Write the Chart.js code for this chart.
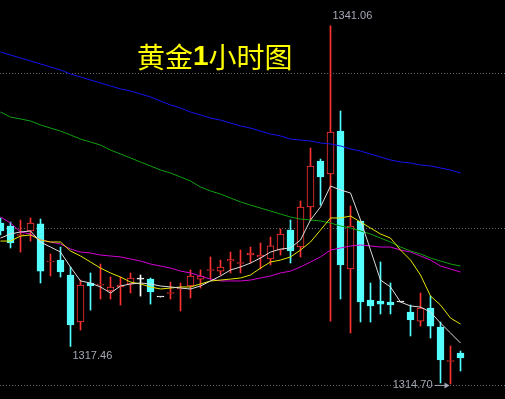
<!DOCTYPE html>
<html>
<head>
<meta charset="utf-8">
<script src="https://cdn.jsdelivr.net/npm/chart.js@4.4.1/dist/chart.umd.min.js"></script>
<style>
  html, body { margin: 0; padding: 0; background: #000; }
  #kline { display: block; background: #000; }
</style>
</head>
<body>
<canvas id="kline" width="505" height="399"></canvas>
<script>
// 1h gold candles, oldest first
const opens  = [1326.55, 1326.33, 1325.63, 1325.96, 1326.48, 1323.68, 1323.82, 1322.72, 1319.26, 1322.13,
                1321.98, 1321.54, 1321.84, 1322.06, 1322.42, 1322.42, 1321.10, 1321.36, 1321.69, 1321.91,
                1322.42, 1323.05, 1323.01, 1323.75, 1323.57, 1324.19, 1324.05, 1323.90, 1324.56, 1326.03,
                1324.78, 1327.73, 1331.11, 1330.16, 1333.32, 1323.16, 1326.70, 1320.88, 1320.80, 1320.73,
                1320.73, 1319.99, 1319.33, 1320.29, 1318.89, 1316.35, 1316.98];
const highs  = [1326.92, 1326.62, 1326.77, 1326.92, 1326.84, 1324.27, 1324.78, 1323.31, 1322.35, 1322.87,
                1323.53, 1322.57, 1322.57, 1322.87, 1322.72, 1322.50, 1321.10, 1322.20, 1322.13, 1323.09,
                1323.09, 1324.05, 1323.82, 1324.41, 1324.56, 1324.78, 1325.08, 1325.52, 1326.11, 1326.77,
                1328.17, 1332.07, 1331.26, 1341.06, 1334.80, 1327.80, 1326.70, 1322.13, 1323.68, 1322.13,
                1320.73, 1320.51, 1321.39, 1321.17, 1319.26, 1317.49, 1317.12];
const lows   = [1325.67, 1324.71, 1324.41, 1325.22, 1322.13, 1322.65, 1322.57, 1317.46, 1318.67, 1320.14,
                1320.95, 1320.95, 1320.51, 1321.39, 1321.17, 1320.58, 1321.10, 1320.95, 1320.07, 1321.03,
                1321.76, 1322.42, 1322.72, 1322.87, 1322.87, 1323.60, 1323.16, 1323.46, 1324.19, 1323.60,
                1324.05, 1326.77, 1327.87, 1319.33, 1320.95, 1318.45, 1319.26, 1319.26, 1319.85, 1319.85,
                1320.73, 1318.23, 1318.96, 1318.08, 1314.77, 1314.70, 1315.65];
const closes = [1325.96, 1325.08, 1325.70, 1326.55, 1323.01, 1323.75, 1322.94, 1319.04, 1321.98, 1321.91,
                1322.06, 1321.84, 1321.98, 1322.50, 1322.42, 1321.47, 1321.10, 1321.43, 1321.76, 1322.65,
                1322.65, 1323.12, 1323.31, 1323.86, 1323.64, 1324.34, 1324.16, 1324.86, 1325.74, 1324.49,
                1327.73, 1330.75, 1329.94, 1333.25, 1323.46, 1326.33, 1320.73, 1320.44, 1320.58, 1320.51,
                1320.73, 1319.41, 1320.29, 1318.96, 1316.46, 1316.42, 1316.61];

// moving averages as drawn on the terminal
const ma5   = [1325.44, 1325.74, 1325.89, 1325.96, 1325.15, 1324.78, 1324.41, 1323.31, 1322.28, 1322.13,
               1321.84, 1321.39, 1321.91, 1322.06, 1322.13, 1322.06, 1321.91, 1321.84, 1321.76, 1321.69,
               1321.91, 1322.28, 1322.65, 1323.09, 1323.31, 1323.60, 1323.97, 1324.41, 1324.63, 1324.71,
               1325.30, 1326.77, 1327.73, 1329.27, 1328.98, 1328.76, 1326.77, 1324.56, 1322.35, 1321.84,
               1320.73, 1320.44, 1320.36, 1319.99, 1319.18, 1318.45, 1317.71];
const ma10  = [1325.22, 1325.22, 1325.59, 1325.67, 1325.30, 1325.15, 1325.15, 1324.49, 1324.12, 1323.68,
               1323.23, 1322.87, 1322.57, 1322.20, 1322.06, 1321.84, 1321.69, 1321.76, 1321.84, 1321.84,
               1322.06, 1322.28, 1322.35, 1322.42, 1322.50, 1322.72, 1323.23, 1323.68, 1323.82, 1324.05,
               1324.56, 1325.15, 1326.03, 1326.92, 1326.92, 1327.06, 1326.62, 1326.18, 1325.74, 1325.44,
               1324.56, 1323.82, 1322.72, 1321.17, 1320.51, 1319.55, 1319.11];
const ma20  = [1326.99, 1326.55, 1325.89, 1325.74, 1325.30, 1325.15, 1325.00, 1324.63, 1324.41, 1324.34,
               1324.19, 1324.12, 1324.05, 1323.90, 1323.75, 1323.53, 1323.38, 1323.23, 1323.01, 1322.87,
               1322.65, 1322.42, 1322.28, 1322.28, 1322.28, 1322.35, 1322.50, 1322.65, 1322.87, 1323.01,
               1323.31, 1323.68, 1324.05, 1324.56, 1324.71, 1324.86, 1324.93, 1324.86, 1324.78, 1324.78,
               1324.56, 1324.41, 1324.12, 1323.82, 1323.38, 1323.16, 1322.94];
const ma60  = [1334.72, 1334.35, 1334.21, 1334.06, 1333.77, 1333.54, 1333.32, 1333.03, 1332.73, 1332.51,
               1332.29, 1331.92, 1331.63, 1331.34, 1331.04, 1330.75, 1330.45, 1330.23, 1329.94, 1329.64,
               1329.20, 1328.91, 1328.68, 1328.39, 1328.10, 1327.87, 1327.65, 1327.43, 1327.21, 1326.99,
               1326.84, 1326.77, 1326.70, 1326.55, 1326.33, 1326.18, 1325.96, 1325.74, 1325.44, 1325.15,
               1324.78, 1324.49, 1324.27, 1323.97, 1323.75, 1323.53, 1323.38];
const ma120 = [1339.14, 1338.92, 1338.70, 1338.48, 1338.26, 1338.04, 1337.82, 1337.52, 1337.30, 1337.08,
               1336.86, 1336.64, 1336.42, 1336.27, 1336.05, 1335.83, 1335.53, 1335.24, 1335.02, 1334.72,
               1334.50, 1334.28, 1334.13, 1333.91, 1333.69, 1333.54, 1333.32, 1333.10, 1332.96, 1332.73,
               1332.66, 1332.59, 1332.44, 1332.37, 1332.22, 1332.00, 1331.85, 1331.63, 1331.41, 1331.19,
               1331.04, 1330.97, 1330.82, 1330.75, 1330.60, 1330.45, 1330.23];

const gridPrices = [1337.59, 1326.11, 1314.62];
const titleParts = ['黄金', '1', '小时图'];

const RED = '#ff3232';
const CYAN = '#54ffff';
const DOJI = '#ffffff';

function candleColor(i) {
  if (closes[i] > opens[i]) return RED;
  if (closes[i] < opens[i]) return CYAN;
  return DOJI;
}

const idx = opens.map((o, i) => i);
const bodyData = idx.map(i => ({ x: i, y: [opens[i], closes[i]] }));
const wickData = idx.map(i => ({ x: i, y: [lows[i], highs[i]] }));
const maLine = (arr, color) => ({
  type: 'line',
  data: arr.map((v, i) => ({ x: i, y: v })),
  borderColor: color,
  borderWidth: 1,
  pointRadius: 0,
  tension: 0,
  fill: false
});

const overlay = {
  id: 'overlay',
  afterDraw(chart) {
    const c = chart.ctx;
    const xs = chart.scales.x, ys = chart.scales.y;

    // title
    c.save();
    c.fillStyle = '#ffff00';
    c.textBaseline = 'middle';
    let tx = 137;
    titleParts.forEach(p => {
      c.font = p === '1' ? 'bold 28px "Liberation Sans", Arial' : '28px "Noto Sans CJK SC"';
      c.fillText(p, tx, 57);
      tx += c.measureText(p).width;
    });

    // high / low marks
    c.font = '11px "Liberation Sans", Arial';
    c.fillStyle = '#a4a8b4';
    c.strokeStyle = '#a4a8b4';
    const hi = highs.indexOf(Math.max(...highs));
    c.textAlign = 'left';
    c.fillText(highs[hi].toFixed(2), xs.getPixelForValue(hi) + 2, ys.getPixelForValue(highs[hi]) - 10);

    const lo1 = 7;
    c.fillText(lows[lo1].toFixed(2), xs.getPixelForValue(lo1) + 2, ys.getPixelForValue(lows[lo1]) + 10);

    const lo = lows.indexOf(Math.min(...lows));
    const lx = xs.getPixelForValue(lo), ly = ys.getPixelForValue(lows[lo]) + 1;
    c.textAlign = 'right';
    c.fillText(lows[lo].toFixed(2), lx - 18, ly);
    c.beginPath();
    c.moveTo(lx - 16, ly + 0.5);
    c.lineTo(lx - 4, ly + 0.5);
    c.stroke();
    c.beginPath();
    c.moveTo(lx - 1, ly + 0.5);
    c.lineTo(lx - 6, ly - 2.5);
    c.lineTo(lx - 6, ly + 3.5);
    c.closePath();
    c.fill();
    c.restore();
  }
};

const ctx = document.getElementById('kline').getContext('2d');

const chart = new Chart(ctx, {
  type: 'bar',
  data: {
    datasets: [
      maLine(ma5, '#dcdcdc'),
      maLine(ma10, '#e6e600'),
      maLine(ma20, '#d400d4'),
      maLine(ma60, '#10a010'),
      maLine(ma120, '#1414f0'),
      {
        data: bodyData,
        grouped: false,
        barThickness: 7,
        minBarLength: 1,
        borderWidth: 1,
        borderSkipped: false,
        borderColor: idx.map(candleColor),
        backgroundColor: idx.map(i => closes[i] > opens[i] ? '#000000' : candleColor(i))
      },
      {
        data: wickData,
        grouped: false,
        barThickness: 1,
        borderWidth: 0,
        backgroundColor: idx.map(candleColor)
      }
    ]
  },
  options: {
    responsive: false,
    animation: false,
    events: [],
    layout: { padding: 0, autoPadding: false },
    plugins: { legend: { display: false }, tooltip: { enabled: false } },
    scales: {
      x: { type: 'linear', display: false, offset: false, min: -0.05, max: 50.45 },
      y: {
        min: 1313.59,
        max: 1342.97,
        ticks: { display: false },
        grid: { color: '#6a6a6a', drawTicks: false },
        border: { display: false, dash: [1, 2] },
        afterBuildTicks: s => { s.ticks = gridPrices.map(v => ({ value: v })); }
      }
    }
  },
  plugins: [overlay]
});
</script>
</body>
</html>
